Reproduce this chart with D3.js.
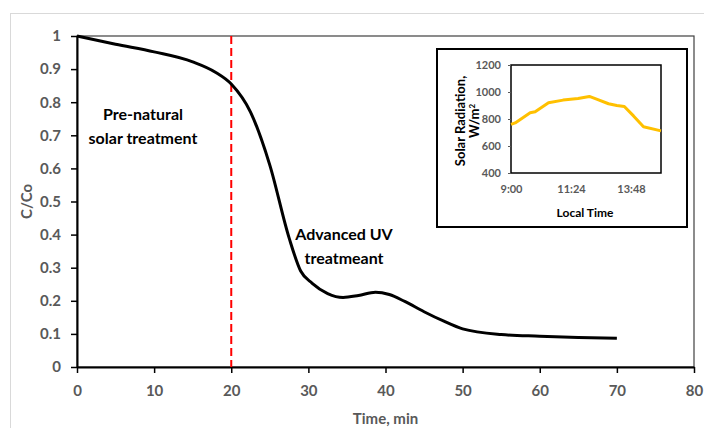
<!DOCTYPE html>
<html>

<head>
  <title>C/Co vs time</title>
  <style>
    body,
    html {
      margin: 0;
      padding: 0;
      background: #fff;
    }

    text {
      font-family: Lato, "Open Sans", sans-serif;
      font-weight: bold;
    }
  </style>
</head>

<body>

  <svg id="svg" width="704" height="428"></svg>

  <script src="https://d3js.org/d3.v7.min.js"></script>
  <script>
    // main curve: time (min) vs C/Co
    const times = [0, 5, 10, 15, 18, 20, 22.5, 25, 27.5, 29, 30.5, 32.5, 34.5, 36.5, 38.7, 40.5, 42.5, 45, 47.5, 50, 55, 60, 65, 70]
    const ratios = [1, 0.975, 0.952, 0.922, 0.89, 0.855, 0.77, 0.61, 0.39, 0.29, 0.253, 0.222, 0.21, 0.216, 0.226, 0.219, 0.198, 0.167, 0.139, 0.115, 0.098, 0.093, 0.089, 0.087]
    const xTicks = [0, 10, 20, 30, 40, 50, 60, 70, 80]
    const yTicks = [0, 0.1, 0.2, 0.3, 0.4, 0.5, 0.6, 0.7, 0.8, 0.9, 1]
    const switchTime = 20

    // inset: minutes after 9:00 vs solar radiation
    const solarMinutes = [0, 10, 46, 58, 90, 125, 161, 188, 207, 234, 254, 272, 294, 318, 360]
    const solarValues = [760, 771, 846, 853, 920, 940, 952, 967, 945, 913, 900, 893, 823, 742, 712]
    const solarTicks = [0, 144, 288]
    const solarTickLabels = ["9:00", "11:24", "13:48"]
    const radTicks = [400, 600, 800, 1000, 1200]

    const svg = d3.select("#svg")

    // outer chart frame
    svg.append("rect")
      .attr("x", 10.5).attr("y", 13.5)
      .attr("width", 700).attr("height", 420)
      .attr("fill", "none")
      .attr("stroke", "#d9d9d9")

    const x = d3.scaleLinear().domain([0, 80]).range([77, 694])
    const y = d3.scaleLinear().domain([0, 1]).range([367, 36])

    // plot area box (top/right)
    svg.append("rect")
      .attr("x", x(0)).attr("y", y(1))
      .attr("width", x(80) - x(0)).attr("height", y(0) - y(1))
      .attr("fill", "none")
      .attr("stroke", "#404040")
      .attr("stroke-width", 1.2)

    const xAxis = svg.append("g")
      .attr("transform", `translate(0,${y(0)})`)
      .call(d3.axisBottom(x).tickValues(xTicks).tickSize(6).tickSizeOuter(0).tickPadding(12))
    const yAxis = svg.append("g")
      .attr("transform", `translate(${x(0)},0)`)
      .call(d3.axisLeft(y).tickValues(yTicks).tickFormat(d => d3.format("~g")(d)).tickSize(6).tickSizeOuter(0).tickPadding(10))

    for (const g of [xAxis, yAxis]) {
      g.select(".domain").attr("stroke", "#000").attr("stroke-width", 2)
      g.selectAll(".tick line").attr("stroke", "#000").attr("stroke-width", 1.5)
      g.selectAll(".tick text")
        .attr("fill", "#595959")
        .style("font-size", "15px")
    }

    svg.append("text")
      .attr("x", (x(0) + x(80)) / 2).attr("y", 424)
      .attr("text-anchor", "middle")
      .attr("fill", "#595959")
      .style("font-size", "15px")
      .text("Time, min")

    svg.append("text")
      .attr("transform", `translate(32,${(y(0) + y(1)) / 2}) rotate(-90)`)
      .attr("text-anchor", "middle")
      .attr("fill", "#595959")
      .style("font-size", "15px")
      .text("C/Co")

    // dashed switch line
    svg.append("line")
      .attr("x1", x(switchTime)).attr("x2", x(switchTime))
      .attr("y1", y(1)).attr("y2", y(0))
      .attr("stroke", "#ff0000")
      .attr("stroke-width", 2)
      .attr("stroke-dasharray", "8,4")

    const lineGen = d3.line()
      .x((d, i) => x(times[i]))
      .y(d => y(d))
      .curve(d3.curveMonotoneX)

    svg.append("path")
      .attr("d", lineGen(ratios))
      .attr("fill", "none")
      .attr("stroke", "#000")
      .attr("stroke-width", 3)

    const notes = [
      { lines: ["Pre-natural", "solar treatment"], x: 143, y: 120 },
      { lines: ["Advanced UV", "treatmeant"], x: 344, y: 240 }
    ]
    notes.forEach(n => {
      n.lines.forEach((t, i) => {
        svg.append("text")
          .attr("x", n.x).attr("y", n.y + i * 24)
          .attr("text-anchor", "middle")
          .attr("fill", "#000")
          .style("font-size", "16px")
          .text(t)
      })
    })

    // ---- inset ----
    svg.append("rect")
      .attr("x", 437).attr("y", 49)
      .attr("width", 250).attr("height", 178)
      .attr("fill", "#fff")
      .attr("stroke", "#000")
      .attr("stroke-width", 2)

    const ix = d3.scaleLinear().domain([0, 360]).range([511, 661])
    const iy = d3.scaleLinear().domain([400, 1200]).range([173, 65])

    svg.append("rect")
      .attr("x", ix(0)).attr("y", iy(1200))
      .attr("width", ix(360) - ix(0)).attr("height", iy(400) - iy(1200))
      .attr("fill", "none")
      .attr("stroke", "#000")
      .attr("stroke-width", 1.5)

    const ixAxis = svg.append("g")
      .attr("transform", `translate(0,${iy(400)})`)
      .call(d3.axisBottom(ix).tickValues(solarTicks).tickFormat((d, i) => solarTickLabels[i]).tickSize(0).tickPadding(12))
    const iyAxis = svg.append("g")
      .attr("transform", `translate(${ix(0)},0)`)
      .call(d3.axisLeft(iy).tickValues(radTicks).tickFormat(d3.format("d")).tickSize(3).tickPadding(7))

    for (const g of [ixAxis, iyAxis]) {
      g.select(".domain").remove()
      g.selectAll(".tick line").attr("stroke", "#595959")
      g.selectAll(".tick text")
        .attr("fill", "#595959")
        .style("font-size", "11px")
    }

    const solarLine = d3.line()
      .x((d, i) => ix(solarMinutes[i]))
      .y(d => iy(d))

    svg.append("path")
      .attr("d", solarLine(solarValues))
      .attr("fill", "none")
      .attr("stroke", "#ffc000")
      .attr("stroke-width", 3)
      .attr("stroke-linejoin", "round")

    svg.append("text")
      .attr("x", 585).attr("y", 217)
      .attr("text-anchor", "middle")
      .attr("fill", "#000")
      .style("font-size", "12px")
      .text("Local Time")

    const yl = svg.append("text")
      .attr("transform", `translate(465,121) rotate(-90)`)
      .attr("text-anchor", "middle")
      .attr("fill", "#000")
      .style("font-size", "13px")
    yl.append("tspan").attr("x", 0).attr("dy", 0).text("Solar Radiation,")
    const l2 = yl.append("tspan").attr("x", 0).attr("dy", 14).text("W/m")
    l2.append("tspan").attr("dy", -4).style("font-size", "8px").text("2")

  </script>
</body>

</html>
